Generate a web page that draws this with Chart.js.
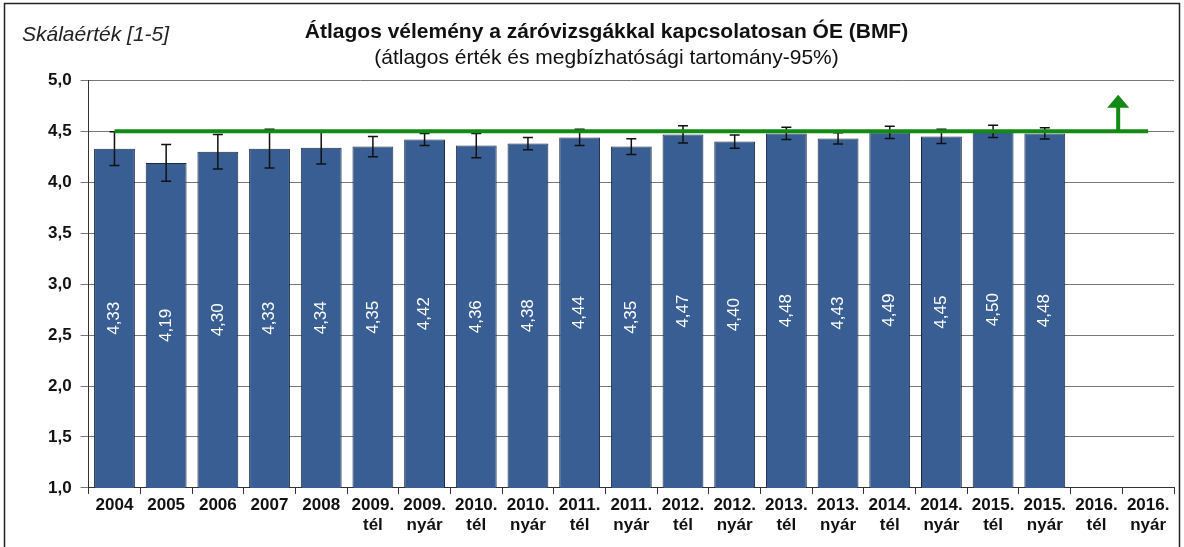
<!DOCTYPE html>
<html>
<head>
<meta charset="utf-8">
<script src="https://cdn.jsdelivr.net/npm/chart.js@4/dist/chart.umd.min.js"></script>
<style>
  html, body { margin: 0; padding: 0; background: #fff; }
  #wrap { width: 1184px; height: 547px; position: relative; }
</style>
</head>
<body>
<div id="wrap"><canvas id="chart"></canvas></div>
<script>
const periods = [
  "2004", "2005", "2006", "2007", "2008",
  ["2009.", "tél"], ["2009.", "nyár"], ["2010.", "tél"], ["2010.", "nyár"],
  ["2011.", "tél"], ["2011.", "nyár"], ["2012.", "tél"], ["2012.", "nyár"],
  ["2013.", "tél"], ["2013.", "nyár"], ["2014.", "tél"], ["2014.", "nyár"],
  ["2015.", "tél"], ["2015.", "nyár"], ["2016.", "tél"], ["2016.", "nyár"]
];
const means = [4.33, 4.19, 4.30, 4.33, 4.34, 4.35, 4.42, 4.36, 4.38, 4.44, 4.35,
  4.47, 4.40, 4.48, 4.43, 4.49, 4.45, 4.50, 4.48, null, null];
// half width of the 95% confidence interval
const ciHalf = [0.165, 0.18, 0.17, 0.19, 0.16, 0.10, 0.06, 0.12, 0.06, 0.08, 0.077,
  0.085, 0.065, 0.06, 0.055, 0.06, 0.07, 0.06, 0.055, null, null];
const target = periods.map(() => 4.5);
const arrowAt = { x: 19.42, from: 4.5, to: 4.86 };
const yTicks = [1, 1.5, 2, 2.5, 3, 3.5, 4, 4.5, 5];

const FONT = "'Liberation Sans', Arial, sans-serif";
const fmt = (v, d) => v.toFixed(d).replace(".", ",");

const frame = {
  id: "frame",
  beforeDraw(chart) {
    const ctx = chart.ctx;
    ctx.save();
    ctx.strokeStyle = "#222";
    ctx.lineWidth = 1.5;
    ctx.strokeRect(4.5, 3.5, 1175, 600);
    ctx.font = "italic 21px " + FONT;
    ctx.fillStyle = "#222";
    ctx.textBaseline = "middle";
    ctx.fillText("Skálaérték [1-5]", 22, 35);
    ctx.restore();
  }
};

const errorBars = {
  id: "errorBars",
  afterDatasetDraw(chart, args) {
    if (args.index !== 0) return;
    const ctx = chart.ctx;
    const x = chart.scales.x, y = chart.scales.y;
    ctx.save();
    ctx.strokeStyle = "#111";
    ctx.lineWidth = 1.5;
    means.forEach((m, i) => {
      if (m == null) return;
      const px = x.getPixelForValue(i);
      const top = y.getPixelForValue(m + ciHalf[i]);
      const bot = y.getPixelForValue(m - ciHalf[i]);
      ctx.beginPath();
      ctx.moveTo(px, top); ctx.lineTo(px, bot);
      ctx.moveTo(px - 5, top); ctx.lineTo(px + 5, top);
      ctx.moveTo(px - 5, bot); ctx.lineTo(px + 5, bot);
      ctx.stroke();
    });
    // values written inside the bars (base of the bar is clipped at the axis)
    const meta = chart.getDatasetMeta(0);
    const bottom = chart.chartArea.bottom;
    ctx.fillStyle = "#fff";
    ctx.font = "17px " + FONT;
    ctx.textAlign = "center";
    ctx.textBaseline = "middle";
    meta.data.forEach((bar, i) => {
      if (means[i] == null) return;
      const cy = (bar.y + Math.min(bar.base, bottom)) / 2;
      ctx.save();
      ctx.translate(bar.x, cy);
      ctx.rotate(-Math.PI / 2);
      ctx.fillText(fmt(means[i], 2), 0, 0);
      ctx.restore();
    });
    ctx.restore();
  }
};

const arrow = {
  id: "arrow",
  afterDatasetsDraw(chart) {
    const ctx = chart.ctx;
    const x = chart.scales.x, y = chart.scales.y;
    const px = x.getPixelForValue(arrowAt.x);
    const y0 = y.getPixelForValue(arrowAt.from);
    const y1 = y.getPixelForValue(arrowAt.to);
    ctx.save();
    ctx.strokeStyle = "#138a13";
    ctx.fillStyle = "#138a13";
    ctx.lineWidth = 4;
    ctx.beginPath();
    ctx.moveTo(px, y0); ctx.lineTo(px, y1 + 10);
    ctx.stroke();
    ctx.beginPath();
    ctx.moveTo(px, y1);
    ctx.lineTo(px - 11, y1 + 13);
    ctx.lineTo(px + 11, y1 + 13);
    ctx.closePath();
    ctx.fill();
    ctx.restore();
  }
};

new Chart(document.getElementById("chart"), {
  type: "bar",
  data: {
    labels: periods,
    datasets: [
      {
        label: "Átlag",
        data: means,
        backgroundColor: "#385e93",
        borderColor: "#1c2a3e",
        borderWidth: 1,
        barPercentage: 0.79,
        categoryPercentage: 1,
        order: 2
      },
      {
        type: "line",
        label: "Cél",
        data: target,
        borderColor: "#138a13",
        borderWidth: 4,
        pointRadius: 0,
        order: 1
      }
    ]
  },
  options: {
    responsive: true,
    maintainAspectRatio: false,
    animation: false,
    layout: { padding: { left: 39, right: 10, top: 0, bottom: 10 } },
    plugins: {
      legend: { display: false },
      tooltip: { enabled: false },
      title: {
        display: true,
        text: "Átlagos vélemény a záróvizsgákkal kapcsolatosan ÓE (BMF)",
        color: "#111",
        font: { family: FONT, size: 21, weight: "bold", lineHeight: 1.2 },
        padding: { top: 20, bottom: 0 }
      },
      subtitle: {
        display: true,
        text: "(átlagos érték és megbízhatósági tartomány-95%)",
        color: "#111",
        font: { family: FONT, size: 21, lineHeight: 1.2 },
        padding: { top: 0, bottom: 10 }
      }
    },
    scales: {
      x: {
        grid: { display: true, drawOnChartArea: false, offset: true, tickLength: 6, color: "#333" },
        border: { color: "#333", width: 1 },
        ticks: {
          color: "#111",
          maxRotation: 0,
          autoSkip: false,
          padding: 2,
          font: { family: FONT, size: 17, weight: "bold", lineHeight: 1.15 }
        }
      },
      y: {
        min: 1,
        max: 5,
        afterBuildTicks(axis) { axis.ticks = yTicks.map((v) => ({ value: v })); },
        grid: { color: "#777", tickLength: 8, lineWidth: 1 },
        border: { color: "#333", width: 1 },
        ticks: {
          color: "#111",
          padding: 9,
          callback: (v) => fmt(v, 1),
          font: { family: FONT, size: 17, weight: "bold" }
        }
      }
    }
  },
  plugins: [frame, errorBars, arrow]
});
</script>
</body>
</html>
